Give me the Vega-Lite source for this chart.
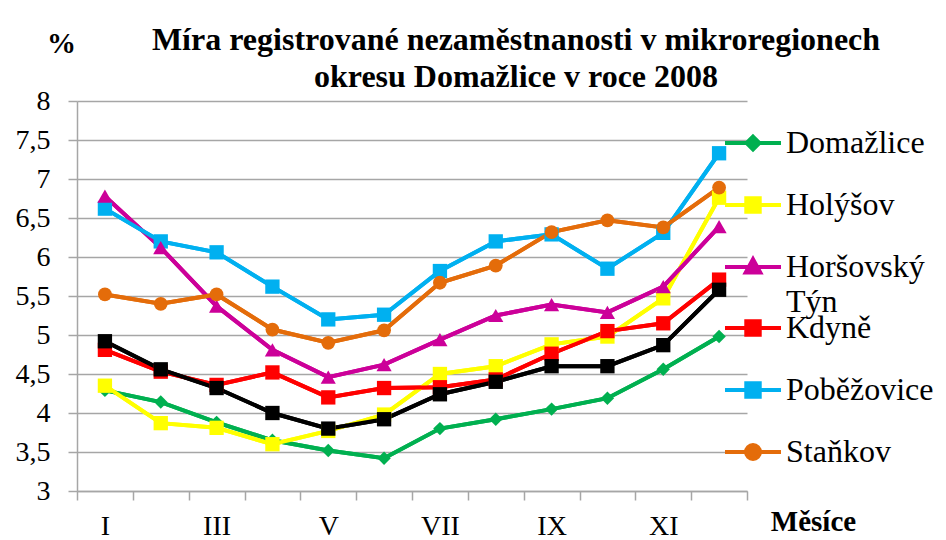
{
  "$schema": "https://vega.github.io/schema/vega-lite/v6.json",
  "autosize": {"type": "none"},
  "padding": {"left": 77, "top": 101, "right": 199, "bottom": 49},
  "width": 670,
  "height": 390,
  "background": "white",
  "config": {"view": {"stroke": null}},
  "title": {
    "text": ["Míra registrované nezaměstnanosti v mikroregionech", "okresu Domažlice v roce 2008"],
    "font": "Liberation Serif", "fontSize": 32, "fontWeight": "bold", "color": "black",
    "lineHeight": 37, "anchor": "middle", "frame": "group", "dx": 104, "offset": -65
  },
  "data": {"values": [
    {"month": "I", "series": "Domažlice", "value": 4.29},
    {"month": "II", "series": "Domažlice", "value": 4.14},
    {"month": "III", "series": "Domažlice", "value": 3.88},
    {"month": "IV", "series": "Domažlice", "value": 3.65},
    {"month": "V", "series": "Domažlice", "value": 3.52},
    {"month": "VI", "series": "Domažlice", "value": 3.42},
    {"month": "VII", "series": "Domažlice", "value": 3.80},
    {"month": "VIII", "series": "Domažlice", "value": 3.92},
    {"month": "IX", "series": "Domažlice", "value": 4.05},
    {"month": "X", "series": "Domažlice", "value": 4.19},
    {"month": "XI", "series": "Domažlice", "value": 4.56},
    {"month": "XII", "series": "Domažlice", "value": 4.98},
    {"month": "I", "series": "Holýšov", "value": 4.35},
    {"month": "II", "series": "Holýšov", "value": 3.87},
    {"month": "III", "series": "Holýšov", "value": 3.81},
    {"month": "IV", "series": "Holýšov", "value": 3.60},
    {"month": "V", "series": "Holýšov", "value": 3.77},
    {"month": "VI", "series": "Holýšov", "value": 3.98},
    {"month": "VII", "series": "Holýšov", "value": 4.50},
    {"month": "VIII", "series": "Holýšov", "value": 4.60},
    {"month": "IX", "series": "Holýšov", "value": 4.88},
    {"month": "X", "series": "Holýšov", "value": 4.98},
    {"month": "XI", "series": "Holýšov", "value": 5.47},
    {"month": "XII", "series": "Holýšov", "value": 6.76},
    {"month": "I", "series": "Horšovský Týn", "value": 6.78},
    {"month": "II", "series": "Horšovský Týn", "value": 6.12},
    {"month": "III", "series": "Horšovský Týn", "value": 5.37},
    {"month": "IV", "series": "Horšovský Týn", "value": 4.81},
    {"month": "V", "series": "Horšovský Týn", "value": 4.46},
    {"month": "VI", "series": "Horšovský Týn", "value": 4.62},
    {"month": "VII", "series": "Horšovský Týn", "value": 4.94},
    {"month": "VIII", "series": "Horšovský Týn", "value": 5.25},
    {"month": "IX", "series": "Horšovský Týn", "value": 5.39},
    {"month": "X", "series": "Horšovský Týn", "value": 5.29},
    {"month": "XI", "series": "Horšovský Týn", "value": 5.62},
    {"month": "XII", "series": "Horšovský Týn", "value": 6.39},
    {"month": "I", "series": "Kdyně", "value": 4.81},
    {"month": "II", "series": "Kdyně", "value": 4.53},
    {"month": "III", "series": "Kdyně", "value": 4.36},
    {"month": "IV", "series": "Kdyně", "value": 4.52},
    {"month": "V", "series": "Kdyně", "value": 4.20},
    {"month": "VI", "series": "Kdyně", "value": 4.32},
    {"month": "VII", "series": "Kdyně", "value": 4.33},
    {"month": "VIII", "series": "Kdyně", "value": 4.43},
    {"month": "IX", "series": "Kdyně", "value": 4.76},
    {"month": "X", "series": "Kdyně", "value": 5.05},
    {"month": "XI", "series": "Kdyně", "value": 5.15},
    {"month": "XII", "series": "Kdyně", "value": 5.71},
    {"month": "I", "series": "Poběžovice", "value": 6.62},
    {"month": "II", "series": "Poběžovice", "value": 6.20},
    {"month": "III", "series": "Poběžovice", "value": 6.06},
    {"month": "IV", "series": "Poběžovice", "value": 5.62},
    {"month": "V", "series": "Poběžovice", "value": 5.20},
    {"month": "VI", "series": "Poběžovice", "value": 5.26},
    {"month": "VII", "series": "Poběžovice", "value": 5.82},
    {"month": "VIII", "series": "Poběžovice", "value": 6.20},
    {"month": "IX", "series": "Poběžovice", "value": 6.29},
    {"month": "X", "series": "Poběžovice", "value": 5.85},
    {"month": "XI", "series": "Poběžovice", "value": 6.31},
    {"month": "XII", "series": "Poběžovice", "value": 7.33},
    {"month": "I", "series": "Staňkov", "value": 5.52},
    {"month": "II", "series": "Staňkov", "value": 5.40},
    {"month": "III", "series": "Staňkov", "value": 5.52},
    {"month": "IV", "series": "Staňkov", "value": 5.07},
    {"month": "V", "series": "Staňkov", "value": 4.90},
    {"month": "VI", "series": "Staňkov", "value": 5.06},
    {"month": "VII", "series": "Staňkov", "value": 5.67},
    {"month": "VIII", "series": "Staňkov", "value": 5.89},
    {"month": "IX", "series": "Staňkov", "value": 6.32},
    {"month": "X", "series": "Staňkov", "value": 6.47},
    {"month": "XI", "series": "Staňkov", "value": 6.38},
    {"month": "XII", "series": "Staňkov", "value": 6.89},
    {"month": "I", "series": "okres celkem", "value": 4.92},
    {"month": "II", "series": "okres celkem", "value": 4.56},
    {"month": "III", "series": "okres celkem", "value": 4.32},
    {"month": "IV", "series": "okres celkem", "value": 4.00},
    {"month": "V", "series": "okres celkem", "value": 3.80},
    {"month": "VI", "series": "okres celkem", "value": 3.92},
    {"month": "VII", "series": "okres celkem", "value": 4.24},
    {"month": "VIII", "series": "okres celkem", "value": 4.40},
    {"month": "IX", "series": "okres celkem", "value": 4.60},
    {"month": "X", "series": "okres celkem", "value": 4.60},
    {"month": "XI", "series": "okres celkem", "value": 4.87},
    {"month": "XII", "series": "okres celkem", "value": 5.58}
  ]},
  "encoding": {
    "x": {
      "field": "month", "type": "ordinal",
      "sort": ["I", "II", "III", "IV", "V", "VI", "VII", "VIII", "IX", "X", "XI", "XII"],
      "scale": {"type": "band", "paddingInner": 0, "paddingOuter": 0},
      "axis": {
        "title": "Měsíce", "titleFont": "Liberation Serif", "titleFontSize": 29, "titleFontWeight": "bold",
        "titleColor": "black", "titleX": 736, "titleY": 39, "titleBaseline": "alphabetic", "titleAlign": "center",
        "labelAngle": 0, "labelFont": "Liberation Serif", "labelFontSize": 28, "labelColor": "black",
        "labelPadding": 12,
        "labelExpr": "indexof(['I','III','V','VII','IX','XI'], datum.value) >= 0 ? datum.label : ''",
        "tickBand": "extent", "tickSize": 9, "tickColor": "#A6A6A6", "tickWidth": 1.5,
        "domainColor": "#A6A6A6", "domainWidth": 1.5, "grid": false
      }
    },
    "y": {
      "field": "value", "type": "quantitative",
      "scale": {"domain": [3, 8], "nice": false, "zero": false},
      "axis": {
        "values": [3, 3.5, 4, 4.5, 5, 5.5, 6, 6.5, 7, 7.5, 8],
        "labelExpr": "replace(format(datum.value, '~g'), '.', ',')",
        "labelFont": "Liberation Serif", "labelFontSize": 28, "labelColor": "black", "labelPadding": 18,
        "tickSize": 9, "tickColor": "#A6A6A6", "tickWidth": 1.5,
        "domainColor": "#A6A6A6", "domainWidth": 1.5,
        "grid": true, "gridColor": "#A6A6A6", "gridWidth": 1.5,
        "title": "%", "titleAngle": 0, "titleFont": "Liberation Serif", "titleFontSize": 29,
        "titleFontWeight": "bold", "titleColor": "black",
        "titleX": -16, "titleY": -49, "titleAlign": "center", "titleBaseline": "alphabetic"
      }
    }
  },
  "layer": [
    {
      "mark": {"type": "line", "strokeWidth": 4},
      "encoding": {
        "color": {
          "field": "series", "type": "nominal",
          "scale": {
            "domain": ["Domažlice", "Holýšov", "Horšovský Týn", "Kdyně", "Poběžovice", "Staňkov", "okres celkem"],
            "range": ["#00B050", "#FFFF00", "#CC0099", "#FF0000", "#00B0F0", "#E46C0A", "#000000"]
          },
          "legend": {
            "values": ["Domažlice", "Holýšov", "Horšovský Týn"],
            "orient": "none", "legendX": 646, "legendY": 12, "title": null,
            "labelFont": "Liberation Serif", "labelFontSize": 32, "labelColor": "black",
            "labelOffset": 3, "labelLimit": 300,
            "labelExpr": "datum.label == 'Horšovský Týn' ? ['Horšovský', 'Týn'] : datum.label",
            "symbolSize": 3136, "symbolStrokeWidth": 4, "rowPadding": 16,
            "encode": {
              "symbols": {
                "update": {
                  "shape": {"signal": "datum.value === 'Domažlice' ? 'M-1,0H1M0,-0.23L0.23,0L0,0.23L-0.23,0Z' : datum.value === 'Horšovský Týn' ? 'M-1,0H1M0,-0.28L0.26,0.2H-0.26Z' : 'M-1,0H1M-0.24,-0.24H0.24V0.24H-0.24Z'"},
                  "fill": {"scale": "color", "field": "value"},
                  "stroke": {"scale": "color", "field": "value"},
                  "strokeWidth": {"value": 4},
                  "opacity": {"value": 1}
                }
              },
              "labels": {
                "update": {
                  "font": {"value": "Liberation Serif"},
                  "fontSize": {"value": 32},
                  "lineHeight": {"value": 35}
                }
              }
            }
          }
        }
      }
    },
    {
      "mark": {"type": "line", "strokeWidth": 4},
      "encoding": {
        "stroke": {
          "field": "series", "type": "nominal",
          "scale": {
            "domain": ["Kdyně", "Poběžovice", "Staňkov", "Domažlice", "Holýšov", "Horšovský Týn", "okres celkem"],
            "range": ["#FF0000", "#00B0F0", "#E46C0A", "#00B050", "#FFFF00", "#CC0099", "#000000"]
          },
          "legend": {
            "values": ["Kdyně", "Poběžovice", "Staňkov"],
            "orient": "none", "legendX": 646, "legendY": 197, "title": null,
            "labelFont": "Liberation Serif", "labelFontSize": 32, "labelColor": "black",
            "labelOffset": 3, "labelLimit": 300,
            "symbolSize": 3136, "symbolStrokeWidth": 4, "rowPadding": 16,
            "encode": {
              "symbols": {
                "update": {
                  "shape": {"signal": "datum.value === 'Staňkov' ? 'M-1,0H1M-0.25,0A0.25,0.25 0 1,0 0.25,0A0.25,0.25 0 1,0 -0.25,0Z' : 'M-1,0H1M-0.24,-0.24H0.24V0.24H-0.24Z'"},
                  "fill": {"scale": "stroke", "field": "value"},
                  "stroke": {"scale": "stroke", "field": "value"},
                  "strokeWidth": {"value": 4},
                  "opacity": {"value": 1}
                }
              },
              "labels": {
                "update": {
                  "font": {"value": "Liberation Serif"},
                  "fontSize": {"value": 32}
                }
              }
            }
          }
        }
      }
    },
    {
      "transform": [{"filter": "datum.series === 'Domažlice'"}],
      "mark": {"type": "point", "filled": true, "opacity": 1, "shape": "diamond", "size": 180},
      "encoding": {"color": {"field": "series", "type": "nominal"}}
    },
    {
      "transform": [{"filter": "datum.series === 'Holýšov' || datum.series === 'Kdyně' || datum.series === 'Poběžovice' || datum.series === 'okres celkem'"}],
      "mark": {"type": "point", "filled": true, "opacity": 1, "shape": "square", "size": 205},
      "encoding": {"color": {"field": "series", "type": "nominal"}}
    },
    {
      "transform": [{"filter": "datum.series === 'Horšovský Týn'"}],
      "mark": {"type": "point", "filled": true, "opacity": 1, "shape": "triangle-up", "size": 230},
      "encoding": {"color": {"field": "series", "type": "nominal"}}
    },
    {
      "transform": [{"filter": "datum.series === 'Staňkov'"}],
      "mark": {"type": "point", "filled": true, "opacity": 1, "shape": "circle", "size": 190},
      "encoding": {"color": {"field": "series", "type": "nominal"}}
    }
  ]
}
